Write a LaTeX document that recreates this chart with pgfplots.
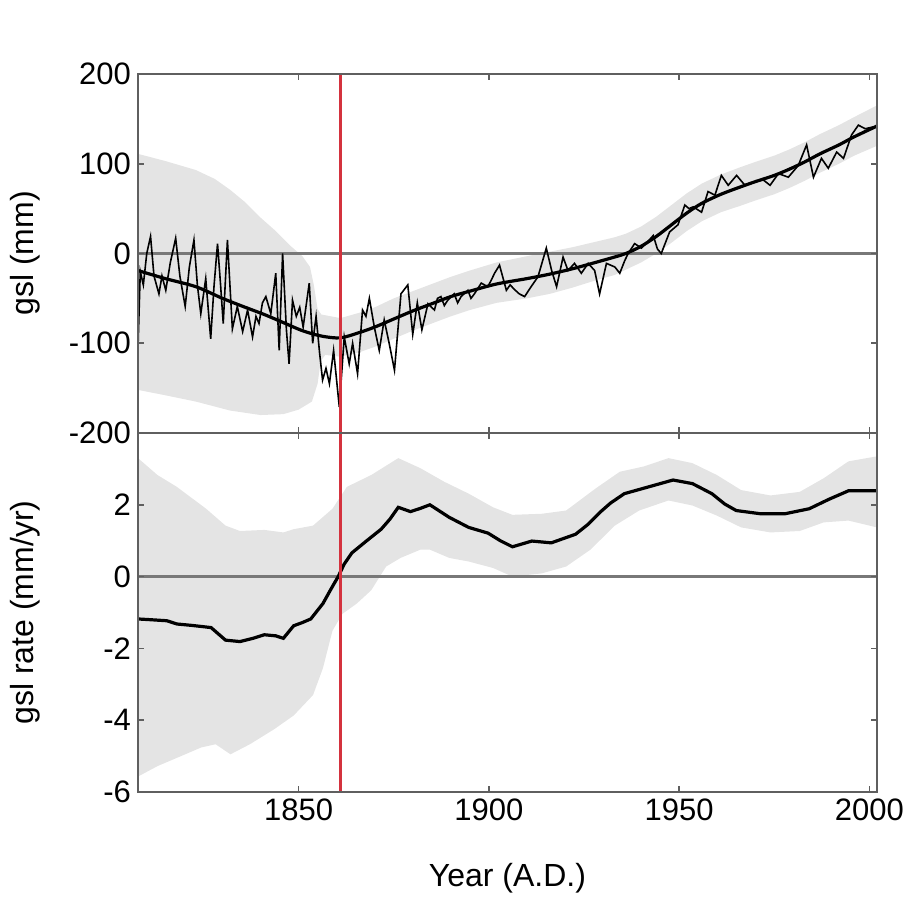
\documentclass[border=0pt]{standalone}
\usepackage{fontspec}
\setmainfont{Liberation Sans}
\usepackage{pgfplots}
\pgfplotsset{compat=1.18}
\definecolor{band}{RGB}{228,228,228}
\definecolor{axgray}{RGB}{95,95,95}
\definecolor{zline}{RGB}{120,120,120}
\definecolor{redl}{RGB}{212,50,62}
\pgfplotsset{
 common/.style={
  scale only axis, width=369.5pt, height=179.5pt,
  xmin=1807.8, xmax=2002,
  axis line style={axgray, line width=1pt},
  tick style={axgray, line width=0.8pt},
  major tick length=3pt,
  tick align=inside,
  xtick={1850,1900,1950,2000},
  /pgf/number format/assume math mode=true,
  /pgf/number format/set thousands separator={},
  ticklabel style={font=\fontsize{15.5}{18}\selectfont},
  every axis y label/.style={at={(axis description cs:-0.153,0.5)},rotate=90,anchor=center,font=\fontsize{16}{19}\selectfont},
  every axis x label/.style={at={(axis description cs:0.5,-0.24)},anchor=center,font=\fontsize{16}{19}\selectfont},
  axis on top=true,
 }
}
\begin{document}
\begin{tikzpicture}
\path[use as bounding box] (-69pt,-58.5pt) rectangle (390.5pt,396pt);
% ---------------- top panel ----------------
\begin{axis}[common, at={(0pt,179.5pt)}, anchor=south west,
  ymin=-200, ymax=200, ytick={-200,-100,0,100,200}, xticklabels={},
  ylabel={gsl (mm)}]
\addplot[fill=band, draw=none] coordinates {
(1807.8,111) (1815,103) (1823,93) (1828,83) (1832,71) (1836,57) (1840,40) (1844,25) (1848,8) (1851,-3) (1853,-15) (1854,-35) (1855,-62) (1856,-68) (1861,-72) (1866,-66) (1870,-60) (1875,-50) (1880,-42) (1885,-34) (1890,-26) (1895,-19) (1902,-10) (1910,-3) (1916,2) (1922,7) (1928,13) (1933,18) (1936,22) (1940,30) (1944,41) (1948,54) (1952,67) (1956,78) (1961,88) (1966,96) (1970,102) (1975,109) (1979,116) (1983,124) (1987,133) (1992,143) (1996,152) (2002,165)
(2002,120) (1996,109) (1992,100) (1987,90) (1983,81) (1979,73) (1975,66) (1970,59) (1966,53) (1961,46) (1956,36) (1952,25) (1948,12) (1944,0) (1940,-10) (1936,-18) (1933,-24) (1928,-30) (1922,-38) (1916,-45) (1910,-50) (1902,-55) (1895,-63) (1890,-70) (1885,-78) (1880,-86) (1875,-95) (1870,-104) (1866,-110) (1861,-115) (1857,-113) (1855.8,-120) (1855,-145) (1853.5,-165) (1850,-174) (1846,-179) (1840,-180) (1832,-175) (1823,-165) (1815,-158) (1807.8,-152)
} -- cycle;
\addplot[zline, line width=1.1pt] coordinates {(1807.8,0) (2002,0)};
\addplot[black, line width=0.8pt] coordinates {
(1807.8,-105) (1808.4,-20) (1809.2,-35) (1810.1,0) (1811.1,19) (1812.0,-25) (1813.3,-45) (1814.1,-25) (1815.1,-41) (1816.3,-10) (1817.7,17) (1818.8,-25) (1820.2,-59) (1821.3,-15) (1822.5,15) (1823.4,-35) (1824.3,-67) (1825.6,-28) (1826.9,-95) (1827.8,-35) (1828.7,11) (1829.5,-35) (1830.2,-78) (1831.3,15) (1832.6,-84) (1833.9,-59) (1835.3,-87) (1836.6,-63) (1837.9,-93) (1838.8,-70) (1839.6,-78) (1840.5,-55) (1841.4,-48) (1842.7,-67) (1844.0,-22) (1844.9,-108) (1845.8,0) (1846.8,-85) (1847.5,-123) (1848.4,-52) (1849.4,-70) (1850.3,-60) (1851.2,-82) (1852.8,-33) (1853.7,-100) (1854.6,-70) (1855.5,-110) (1856.3,-141) (1857.2,-128) (1858.1,-145) (1859.2,-108) (1860.7,-171) (1862.0,-93) (1863.3,-123) (1864.2,-100) (1865.5,-134) (1866.8,-63) (1867.7,-70) (1868.6,-50) (1869.9,-82) (1871.2,-108) (1872.5,-74) (1873.8,-100) (1875.2,-130) (1876.9,-45) (1878.7,-35) (1880.0,-90) (1881.2,-55) (1882.4,-85) (1884.0,-56) (1885.7,-63) (1886.5,-50) (1887.4,-48) (1888.3,-58) (1889.2,-52) (1890.9,-45) (1891.8,-55) (1892.7,-48) (1894.5,-41) (1895.3,-50) (1896.2,-45) (1898.0,-33) (1899.7,-37) (1900.6,-30) (1901.5,-22) (1902.8,-13) (1904.6,-41) (1905.6,-35) (1906.7,-40) (1908.0,-45) (1909.4,-48) (1911.1,-37) (1912.9,-26) (1915.1,6) (1916.5,-19) (1917.8,-37) (1919.5,-4) (1920.8,-19) (1922.5,-11) (1924.3,-22) (1926.1,-11) (1927.8,-19) (1929.1,-45) (1930.9,-11) (1933.1,-15) (1934.4,-22) (1935.7,-8) (1936.6,0) (1938.3,11) (1940.1,6) (1941.5,12) (1943.2,20) (1944.3,5) (1945.3,0) (1947.5,24) (1949.7,32) (1951.5,54) (1952.6,50) (1953.7,52) (1955.9,46) (1957.6,69) (1959.4,65) (1961.1,87) (1962.9,76) (1965.1,87) (1967.3,76) (1969.9,80) (1972.1,82) (1973.9,76) (1976.1,89) (1978.7,85) (1981.3,98) (1983.5,121) (1985.3,85) (1987.4,106) (1989.2,95) (1991.4,113) (1993.2,106) (1995.3,132) (1997.1,143) (1998.9,139) (2001.0,141)
};
\addplot[black, line width=1.6pt, smooth] coordinates {
(1807.8,-19) (1815,-28) (1823,-37) (1830,-50) (1836,-60) (1841,-68) (1846,-77) (1851,-86) (1856,-92) (1861,-94) (1866,-88) (1870,-82) (1875,-73) (1880,-64) (1885,-56) (1890,-48) (1895,-42) (1902,-34) (1910,-28) (1916,-23) (1922,-17) (1928,-10) (1933,-4) (1936,0) (1940,8) (1944,19) (1948,32) (1952,45) (1956,56) (1961,66) (1966,74) (1970,80) (1975,87) (1979,94) (1983,102) (1987,111) (1992,121) (1996,130) (2002,142)
};
\addplot[redl, line width=1.5pt] coordinates {(1861,-200) (1861,200)};
\end{axis}
% ---------------- bottom panel ----------------
\begin{axis}[common, at={(0pt,0pt)}, anchor=south west,
  ymin=-6, ymax=4, ytick={-6,-4,-2,0,2},
  ylabel={gsl rate (mm/yr)}, xlabel={Year (A.D.)}]
\addplot[fill=band, draw=none] coordinates {
(1807.8,3.3) (1812.9,2.83) (1818,2.5) (1825.7,1.89) (1830.8,1.42) (1834.6,1.27) (1841,1.3) (1846,1.23) (1848.7,1.32) (1853.8,1.42) (1858.9,1.89) (1862.7,2.5) (1869.1,2.83) (1876.2,3.3) (1882,3.02) (1888.3,2.64) (1894.7,2.31) (1901.1,1.93) (1906.2,1.72) (1913.9,1.75) (1920.3,1.84) (1928,2.45) (1934.4,2.92) (1940.8,3.07) (1947.2,3.3) (1953.5,3.16) (1959.9,2.83) (1966.3,2.41) (1974,2.26) (1981.7,2.36) (1988,2.74) (1994.5,3.21) (2002,3.35)
(2002,1.37) (1994.5,1.56) (1988,1.51) (1981.7,1.27) (1974,1.23) (1966.3,1.37) (1959.9,1.7) (1953.5,1.98) (1947.2,2.12) (1939.5,1.84) (1933.1,1.42) (1926.7,0.75) (1920.3,0.28) (1913.9,0.09) (1906.2,0.0) (1901.1,0.24) (1894.7,0.42) (1889.6,0.52) (1884.5,0.75) (1882,0.75) (1876.8,0.52) (1873,0.28) (1869.1,-0.38) (1865.3,-0.75) (1861.5,-1.04) (1858.9,-1.51) (1856.4,-2.55) (1853.8,-3.3) (1848.7,-3.87) (1843.6,-4.25) (1837.2,-4.67) (1832.1,-4.95) (1828.2,-4.67) (1824.4,-4.76) (1818,-5.05) (1812.9,-5.28) (1807.8,-5.57)
} -- cycle;
\addplot[zline, line width=1.1pt] coordinates {(1807.8,0) (2002,0)};
\addplot[black, line width=1.6pt] coordinates {
(1807.8,-1.18) (1811,-1.2) (1815.4,-1.23) (1818,-1.32) (1822,-1.36) (1827,-1.42) (1830.8,-1.77) (1834.6,-1.81) (1838,-1.72) (1841,-1.62) (1844,-1.65) (1846,-1.72) (1848.7,-1.37) (1851,-1.28) (1853.2,-1.18) (1856.4,-0.75) (1858.5,-0.35) (1860.4,0) (1862,0.35) (1864,0.66) (1867.8,0.99) (1871.7,1.32) (1874,1.6) (1876.2,1.93) (1879.4,1.81) (1882,1.9) (1884.5,2.0) (1889.6,1.65) (1894.7,1.37) (1899.8,1.21) (1903,1.0) (1906.2,0.83) (1911.3,0.99) (1916.4,0.94) (1922.8,1.18) (1926,1.45) (1929.2,1.79) (1932,2.05) (1935.6,2.31) (1942,2.5) (1948.4,2.69) (1953.5,2.59) (1958.6,2.31) (1962,2.02) (1965,1.84) (1971.4,1.75) (1977.8,1.75) (1984.2,1.89) (1989.3,2.15) (1994.5,2.39) (2002,2.39)
};
\addplot[redl, line width=1.5pt] coordinates {(1861,-6) (1861,4)};
\end{axis}
\end{tikzpicture}
\end{document}
